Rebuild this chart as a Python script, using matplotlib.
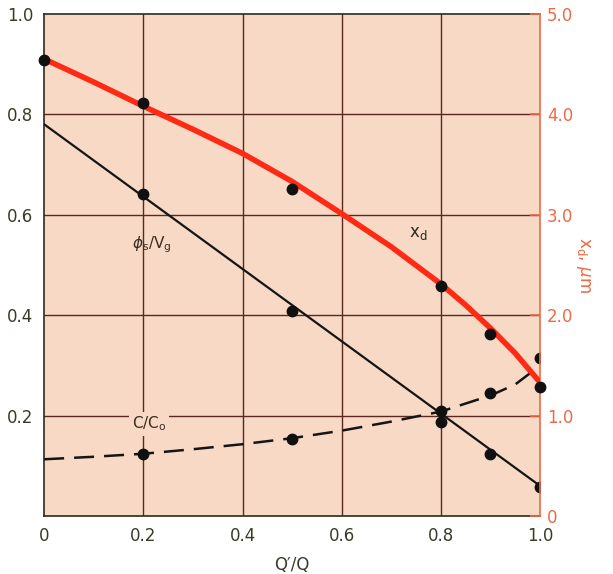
import numpy as np
import matplotlib.pyplot as plt

# --- data ---
q_pts = [0.2, 0.5, 0.8, 0.9, 1.0]
phi_pts = [0.641, 0.408, 0.187, 0.124, 0.058]
c_pts = [0.123, 0.153, 0.209, 0.245, 0.315]
xd_q_pts = [0.0, 0.2, 0.5, 0.8, 0.9, 1.0]
xd_pts = [4.54, 4.11, 3.26, 2.29, 1.81, 1.28]

# fitted curves (as drawn)
phi_line_q = [0.0, 1.0]
phi_line = [0.78, 0.06]
c_curve_q = [0.0, 0.1, 0.2, 0.3, 0.4, 0.5, 0.6, 0.7, 0.8, 0.9, 0.95, 0.99]
c_curve = [0.113, 0.118, 0.124, 0.133, 0.143, 0.155, 0.170, 0.188, 0.208, 0.240, 0.262, 0.292]
xd_curve_q = [0.0, 0.1, 0.2, 0.3, 0.4, 0.5, 0.6, 0.7, 0.8, 0.85, 0.9, 0.95, 1.0]
xd_curve = [4.55, 4.32, 4.08, 3.85, 3.61, 3.33, 3.01, 2.68, 2.31, 2.10, 1.87, 1.62, 1.33]

bg = '#f7d9c6'
grid_c = '#5a2820'
red_c = '#ff2a14'
axis_red = '#ec6a45'
txt_c = '#3a3a28'

fig = plt.figure(figsize=(6.13, 5.74), dpi=100, facecolor='white')
ax = fig.add_axes([0.072, 0.101, 0.809, 0.875])
ax.set_facecolor(bg)
ax.set_xlim(0, 1.0)
ax.set_ylim(0, 1.0)

for v in [0.2, 0.4, 0.6, 0.8]:
    ax.axvline(v, color=grid_c, lw=1.0, zorder=1)
    ax.axhline(v, color=grid_c, lw=1.0, zorder=1)

ax.set_xticks([0, 0.2, 0.4, 0.6, 0.8, 1.0])
ax.set_xticklabels(['0', '0.2', '0.4', '0.6', '0.8', '1.0'])
ax.set_yticks([0.2, 0.4, 0.6, 0.8, 1.0])
ax.set_yticklabels(['0.2', '0.4', '0.6', '0.8', '1.0'])
ax.tick_params(length=0, labelsize=12, labelcolor=txt_c, pad=8)
for s in ['left', 'bottom', 'top']:
    ax.spines[s].set_color('#2a2a20')
    ax.spines[s].set_linewidth(1.2)
ax.spines['right'].set_visible(False)

ax.set_xlabel("Q\u2032/Q", fontsize=12, color=txt_c, labelpad=8)

# phi_s/Vg
ax.plot(phi_line_q, phi_line, color='#151515', lw=1.6, zorder=3)
ax.plot(q_pts, phi_pts, 'o', color='#101010', ms=7.5, zorder=5)

# C/Co
ax.plot(c_curve_q, c_curve, color='#151515', lw=1.8, ls=(0, (8, 4)), zorder=3)
ax.plot(q_pts, c_pts, 'o', color='#101010', ms=7.5, zorder=5)

ax.text(0.218, 0.54, r'$\phi_{\mathrm{s}}/\mathrm{V_g}$', fontsize=11, color='#3a2a20',
        ha='center', va='center', zorder=4)
ax.text(0.212, 0.184, r'$\mathrm{C/C_o}$', fontsize=11, color='#3a2a20',
        ha='center', va='center', zorder=4,
        bbox=dict(facecolor=bg, edgecolor='none', pad=2))

# x_d on right axis
ax2 = ax.twinx()
ax2.set_ylim(0, 5.0)
ax2.plot(xd_curve_q, xd_curve, color=red_c, lw=4, zorder=3, solid_capstyle='butt')
ax2.plot(xd_q_pts, xd_pts, 'o', color='#101010', ms=7.5, zorder=5, clip_on=False)
ax2.text(0.755, 2.82, r'$\mathrm{x_d}$', fontsize=12, color='#2a2a20', ha='center', va='center')
ax2.set_yticks([0, 1, 2, 3, 4, 5])
ax2.set_yticklabels(['0', '1.0', '2.0', '3.0', '4.0', '5.0'])
ax2.tick_params(axis='y', direction='in', length=7, width=1.2, color=axis_red,
                labelcolor=axis_red, labelsize=12, pad=5)
for s in ['left', 'bottom', 'top']:
    ax2.spines[s].set_visible(False)
ax2.spines['right'].set_color(axis_red)
ax2.spines['right'].set_linewidth(1.2)
ax2.set_ylabel(r'$\mathrm{x_d}$, $\mu$m', color=axis_red, fontsize=12,
               rotation=270, labelpad=22)
ax2.yaxis.set_label_coords(1.105, 0.5)

fig.savefig('out.png', dpi=100, facecolor='white')
